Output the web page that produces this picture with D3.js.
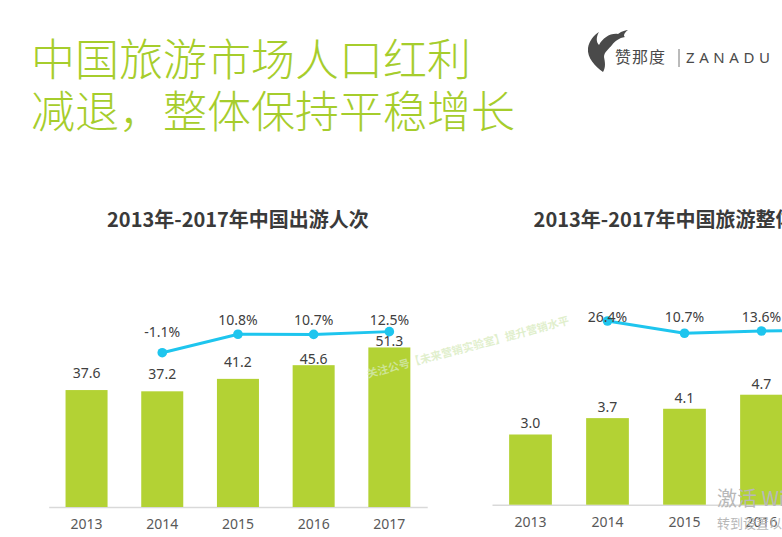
<!DOCTYPE html>
<html>
<head>
<meta charset="utf-8">
<script src="https://cdn.jsdelivr.net/npm/d3@7"></script>
<style>
  body { margin: 0; background: #fff; }
  svg { display: block; font-family: "Noto Sans", "Noto Sans CJK SC", sans-serif; }
</style>
</head>
<body>
<svg width="782" height="537"></svg>
<script>
// data
var years = ["2013", "2014", "2015", "2016", "2017"];
var trips = [37.6, 37.2, 41.2, 45.6, 51.3];          // 中国出游人次 (亿)
var tripsGrowth = [null, -1.1, 10.8, 10.7, 12.5];
var income = [3.0, 3.7, 4.1, 4.7, 5.4];              // 旅游整体收入 (万亿)
var incomeGrowth = [null, 26.4, 10.7, 13.6, 15.1];

var green = "#b3d234",
    cyan = "#1ec5ee",
    textDark = "#404040";

var svg = d3.select("svg");

// page title
var title = svg.append("text")
  .attr("fill", "#a6cd2c")
  .attr("font-family", "'Noto Sans CJK SC', sans-serif")
  .attr("font-weight", 300)
  .attr("font-size", "44px");
title.append("tspan").attr("x", 31).attr("y", 76).text("中国旅游市场人口红利");
title.append("tspan").attr("x", 31).attr("y", 128).text("减退，整体保持平稳增长");

// logo
var logo = svg.append("g").attr("transform", "translate(585,28)");
logo.append("path")
  .attr("fill", "#4a4a4a")
  .attr("d", "M18,44 C10,38 2,30 3,20 C4,13 9,7 14,4 C11,9 11,14 14,17 C18,10 25,5 33,6 C37,3 41,2 43,2 C39,5 38,8 40,9 C34,10 30,13 27,17 C24,21 19,24 19,29 C20,34 21,39 18,44 Z");
svg.append("text")
  .attr("x", 615).attr("y", 63)
  .attr("fill", "#4a4a4a")
  .attr("font-family", "'Noto Sans CJK SC', sans-serif")
  .attr("font-size", "16px")
  .attr("letter-spacing", "1px")
  .text("赞那度");
svg.append("line")
  .attr("x1", 679).attr("x2", 679).attr("y1", 49).attr("y2", 67)
  .attr("stroke", "#777").attr("stroke-width", 1);
svg.append("text")
  .attr("x", 686).attr("y", 63)
  .attr("fill", "#4a4a4a")
  .attr("font-size", "15px")
  .attr("letter-spacing", "4.6px")
  .text("ZANADU");

function drawChart(opt) {
  var g = svg.append("g");

  var x = d3.scaleBand()
    .domain(years)
    .range(opt.xRange)
    .paddingInner(0.445)
    .paddingOuter(0.2225);

  var y = d3.scaleLinear().domain(opt.yDomain).range(opt.yRange);
  var y2 = d3.scaleLinear().domain(opt.y2Domain).range(opt.y2Range);

  g.append("text")
    .attr("x", (opt.xRange[0] + opt.xRange[1]) / 2)
    .attr("y", 227)
    .attr("text-anchor", "middle")
    .attr("fill", "#3a3a3a")
    .attr("font-family", "'Noto Sans CJK SC', sans-serif")
    .attr("font-weight", "bold")
    .attr("font-size", "20px")
    .text(opt.title);

  var xAxis = g.append("g")
    .attr("transform", "translate(0," + opt.yRange[0] + ")")
    .call(d3.axisBottom(x).tickSize(0).tickPadding(12));
  xAxis.select(".domain").attr("stroke", "#d9d9d9").attr("stroke-width", 1.5);
  xAxis.selectAll("text")
    .attr("fill", "#595959")
    .attr("font-size", "14px")
    .attr("font-family", "'Noto Sans', sans-serif");

  g.selectAll(".bar")
    .data(opt.values)
    .enter().append("rect")
    .attr("class", "bar")
    .attr("x", function(d, i) { return x(years[i]); })
    .attr("y", function(d) { return y(d); })
    .attr("width", x.bandwidth())
    .attr("height", function(d) { return y(0) - y(d); })
    .attr("fill", green);

  var pts = [];
  opt.growth.forEach(function(d, i) {
    if (d != null) pts.push({ year: years[i], v: d, i: i });
  });

  g.selectAll(".barlabel")
    .data(opt.values)
    .enter().append("text")
    .attr("class", "barlabel")
    .attr("x", function(d, i) { return x(years[i]) + x.bandwidth() / 2; })
    .attr("y", function(d, i) {
      var top = y(d), ly = top - opt.labelGap;
      var g2 = opt.growth[i];
      if (g2 != null && ly - y2(g2) < 20) ly = top - 6;
      return ly;
    })
    .attr("dy", "0.35em")
    .attr("text-anchor", "middle")
    .attr("fill", textDark)
    .attr("font-size", "14px")
    .text(function(d) { return d.toFixed(1); });

  var line = d3.line()
    .x(function(d) { return x(d.year) + x.bandwidth() / 2; })
    .y(function(d) { return y2(d.v); });

  g.append("path")
    .datum(pts)
    .attr("d", line)
    .attr("fill", "none")
    .attr("stroke", cyan)
    .attr("stroke-width", 3);

  g.selectAll(".dot")
    .data(pts)
    .enter().append("circle")
    .attr("cx", function(d) { return x(d.year) + x.bandwidth() / 2; })
    .attr("cy", function(d) { return y2(d.v); })
    .attr("r", 4.8)
    .attr("fill", cyan);

  g.selectAll(".pct")
    .data(pts)
    .enter().append("text")
    .attr("x", function(d) { return x(d.year) + x.bandwidth() / 2; })
    .attr("y", function(d) { return Math.max(y2(d.v) - 21, opt.pctTop); })
    .attr("dy", "0.35em")
    .attr("text-anchor", "middle")
    .attr("fill", textDark)
    .attr("font-size", "14px")
    .text(function(d) { return d.v.toFixed(1) + "%"; });
}

drawChart({
  title: "2013年-2017年中国出游人次",
  values: trips,
  growth: tripsGrowth,
  xRange: [48.7, 427.2],
  yDomain: [0, 60], yRange: [507, 320.4],
  y2Domain: [0, 20], y2Range: [351, 320],
  labelGap: 17,
  pctTop: 320
});

drawChart({
  title: "2013年-2017年中国旅游整体收入",
  values: income,
  growth: incomeGrowth,
  xRange: [492, 877],
  yDomain: [0, 6], yRange: [504.7, 364.3],
  y2Domain: [0, 40], y2Range: [341.6, 310.4],
  labelGap: 11,
  pctTop: 317
});

// faint watermark across the charts
svg.append("text")
  .attr("transform", "translate(368,378) rotate(-15)")
  .attr("fill", "#d6eabb")
  .attr("fill-opacity", 0.75)
  .attr("font-family", "'Noto Sans CJK SC', sans-serif")
  .attr("font-weight", "bold")
  .attr("font-size", "11px")
  .text("关注公号【未来营销实验室】提升营销水平");

// windows activation overlay
svg.append("text")
  .attr("x", 717).attr("y", 506)
  .attr("fill", "#b8b8b8")
  .attr("font-family", "'Noto Sans CJK SC', sans-serif")
  .attr("font-size", "20px")
  .text("激活 Windows");
svg.append("text")
  .attr("x", 717).attr("y", 528)
  .attr("fill", "#b8b8b8")
  .attr("font-family", "'Noto Sans CJK SC', sans-serif")
  .attr("font-size", "13px")
  .text("转到设置以激活 Windows。");
</script>
</body>
</html>
